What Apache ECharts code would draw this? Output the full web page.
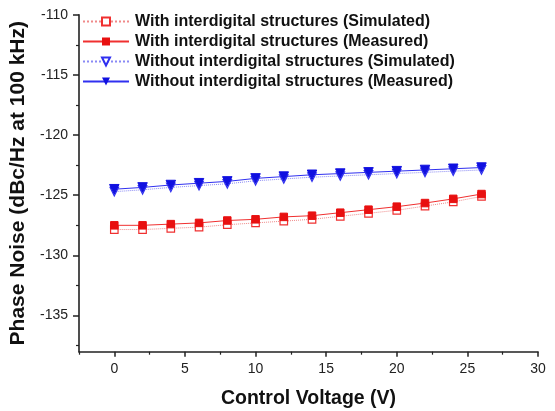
<!DOCTYPE html>
<html>
<head>
<meta charset="utf-8">
<script src="https://cdn.jsdelivr.net/npm/echarts@6/dist/echarts.min.js"></script>
<style>
  html, body { margin: 0; padding: 0; background: #fff; }
  #chart { width: 555px; height: 411px; }
</style>
</head>
<body>
<div id="chart"></div>
<script>
// Control voltage sweep (V)
const voltage = [0, 2, 4, 6, 8, 10, 12, 14, 16, 18, 20, 22, 24, 26];

// Phase noise at 100 kHz offset (dBc/Hz)
const withSimulated = [-127.85, -127.85, -127.75, -127.65, -127.45, -127.3, -127.15, -127.0, -126.75, -126.5, -126.25, -125.9, -125.55, -125.1];
const withMeasured = [-127.5, -127.5, -127.4, -127.3, -127.1, -127.0, -126.8, -126.7, -126.45, -126.2, -125.95, -125.65, -125.3, -124.9];
const withoutSimulated = [-124.7, -124.55, -124.35, -124.2, -124.05, -123.8, -123.65, -123.5, -123.4, -123.3, -123.2, -123.1, -123.0, -122.9];
const withoutMeasured = [-124.5, -124.35, -124.15, -124.0, -123.85, -123.6, -123.45, -123.3, -123.2, -123.1, -123.0, -122.9, -122.8, -122.7];

const seriesNames = [
  'With interdigital structures (Simulated)',
  'With interdigital structures (Measured)',
  'Without interdigital structures (Simulated)',
  'Without interdigital structures (Measured)'
];

// Tick positions
const xMajorTicks = [0, 5, 10, 15, 20, 25, 30];
const xMinorTicks = [-2.5, 2.5, 7.5, 12.5, 17.5, 22.5, 27.5];
const yMajorTicks = [-135, -130, -125, -120, -115, -110];
const yMinorTicks = [-137.5, -132.5, -127.5, -122.5, -117.5, -112.5];

const pairs = (ys) => voltage.map((v, i) => [v, ys[i]]);

const font = 'Liberation Sans, Arial, sans-serif';
const axisColor = '#222';

const chart = echarts.init(document.getElementById('chart'), null, { renderer: 'canvas' });

chart.setOption({
  animation: false,
  backgroundColor: '#fff',
  grid: { left: 79, right: 17, top: 14.7, bottom: 59.3, containLabel: false, outerBoundsMode: 'none' },
  legend: {
    orient: 'vertical',
    left: 77,
    top: 8.5,
    itemWidth: 46,
    itemHeight: 10,
    itemGap: 4,
    textStyle: { fontFamily: font, fontSize: 16, fontWeight: 'bold', color: '#111', padding: [0, 0, 0, 1] },
    data: seriesNames
  },
  xAxis: [
    {
      type: 'value',
      position: 'bottom',
      min: -2.5,
      max: 30,
      name: 'Control Voltage (V)',
      nameLocation: 'middle',
      nameGap: 37,
      nameTextStyle: { color: '#111', fontFamily: font, fontWeight: 'bold', fontSize: 19.5 },
      axisLine: { show: true, onZero: false, lineStyle: { color: axisColor, width: 1.6 } },
      axisTick: { show: true, inside: false, length: 5, customValues: xMajorTicks, lineStyle: { color: axisColor, width: 1.5 } },
      axisLabel: { show: true, margin: 10, customValues: xMajorTicks, color: '#222', fontFamily: font, fontSize: 14 },
      splitLine: { show: false }
    },
    {
      type: 'value',
      position: 'bottom',
      min: -2.5,
      max: 30,
      axisLine: { show: false, onZero: false },
      axisTick: { show: true, inside: false, length: 3, customValues: xMinorTicks, lineStyle: { color: axisColor, width: 1.2 } },
      axisLabel: { show: false },
      splitLine: { show: false }
    }
  ],
  yAxis: [
    {
      type: 'value',
      position: 'left',
      min: -138,
      max: -110,
      name: 'Phase Noise (dBc/Hz at 100 kHz)',
      nameLocation: 'middle',
      nameRotate: 90,
      nameGap: 36,
      nameTextStyle: { color: '#111', fontFamily: font, fontWeight: 'bold', fontSize: 21 },
      axisLine: { show: true, onZero: false, lineStyle: { color: axisColor, width: 1.6 } },
      axisTick: { show: true, inside: false, length: 6, customValues: yMajorTicks, lineStyle: { color: axisColor, width: 1.5 } },
      axisLabel: { show: true, margin: 11, customValues: yMajorTicks, color: '#222', fontFamily: font, fontSize: 14 },
      splitLine: { show: false }
    },
    {
      type: 'value',
      position: 'left',
      min: -138,
      max: -110,
      axisLine: { show: false, onZero: false },
      axisTick: { show: true, inside: false, length: 3, customValues: yMinorTicks, lineStyle: { color: axisColor, width: 1.2 } },
      axisLabel: { show: false },
      splitLine: { show: false }
    }
  ],
  series: [
    {
      name: seriesNames[0],
      type: 'line',
      data: pairs(withSimulated),
      symbol: 'rect',
      symbolSize: 7.5,
      lineStyle: { color: '#f08a8a', width: 1, type: 'dotted' },
      itemStyle: { color: '#fff', borderColor: '#f03030', borderWidth: 1.2 },
      z: 2
    },
    {
      name: seriesNames[1],
      type: 'line',
      data: pairs(withMeasured),
      symbol: 'rect',
      symbolSize: 7.5,
      lineStyle: { color: '#f03030', width: 1 },
      itemStyle: { color: '#e81010', borderColor: '#e81010' },
      z: 3
    },
    {
      name: seriesNames[2],
      type: 'line',
      data: pairs(withoutSimulated),
      symbol: 'triangle',
      symbolRotate: 180,
      symbolSize: 8.5,
      lineStyle: { color: '#8a8af5', width: 1, type: 'dotted' },
      itemStyle: { color: '#fff', borderColor: '#3030f0', borderWidth: 1.2 },
      z: 2
    },
    {
      name: seriesNames[3],
      type: 'line',
      data: pairs(withoutMeasured),
      symbol: 'triangle',
      symbolRotate: 180,
      symbolSize: 9.5,
      lineStyle: { color: '#3030f0', width: 1 },
      itemStyle: { color: '#1010e0', borderColor: '#1010e0' },
      z: 3
    }
  ]
});
</script>
</body>
</html>
